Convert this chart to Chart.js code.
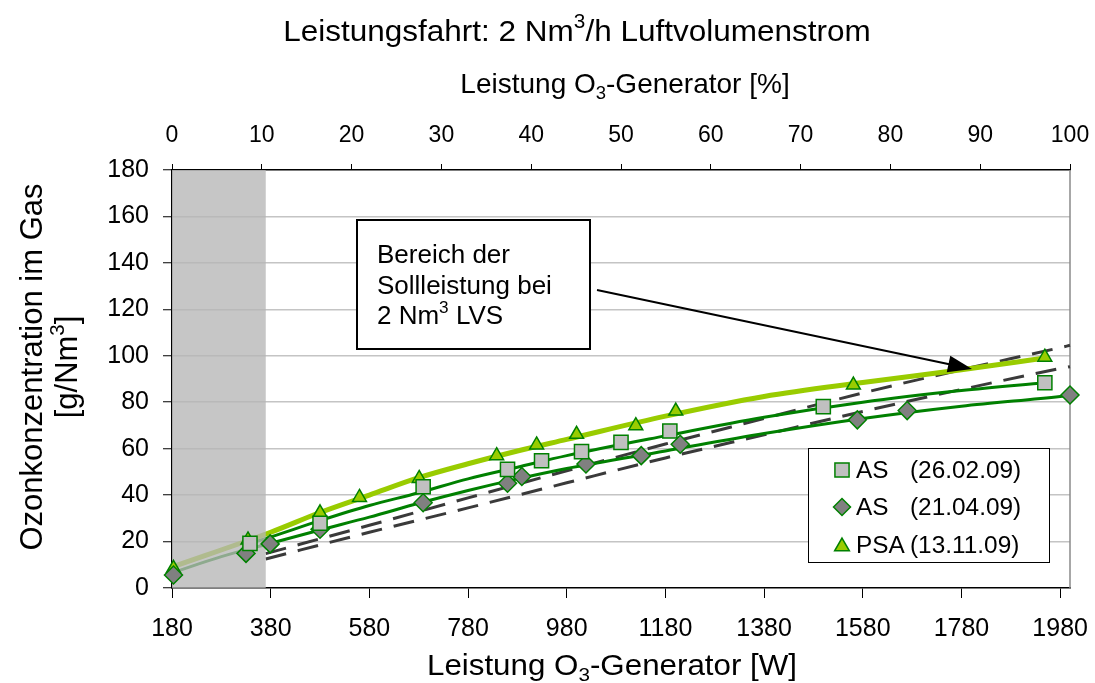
<!DOCTYPE html>
<html><head><meta charset="utf-8">
<script src="https://cdn.jsdelivr.net/npm/chart.js@4/dist/chart.umd.min.js"></script>
<style>html,body{margin:0;padding:0;background:#fff;}</style>
</head><body>
<canvas id="c" width="1095" height="683"></canvas>
<script>
const FONT = '"Liberation Sans", Arial, Helvetica, sans-serif';

// ---- tick labels ----
const xTickValues = [180, 380, 580, 780, 980, 1180, 1380, 1580, 1780, 1980];
const topTickValues = [0, 10, 20, 30, 40, 50, 60, 70, 80, 90, 100];
const yTickValues = [0, 20, 40, 60, 80, 100, 120, 140, 160, 180];

// ---- measured points ----
const as26W = [338, 480, 689, 860, 929, 1010, 1090, 1189, 1500, 1949];
const as26C = [19.2, 27.9, 43.6, 51.1, 54.8, 58.7, 62.7, 67.6, 78.1, 88.4];

const as21W = [183, 330, 379, 480, 689, 860, 889, 1019, 1131, 1210, 1569, 1670, 2000];
const as21C = [5.6, 14.9, 19, 25.3, 36.7, 45.1, 48, 53.4, 57, 61.9, 72.4, 76.4, 83.1];

const psaW = [183, 334, 480, 560, 681, 838, 919, 1000, 1120, 1201, 1561, 1949];
const psaC = [8.5, 20.7, 32.4, 39, 47.2, 57, 61.6, 66.2, 69.9, 76.2, 87.4, 99.4];

// ---- trend curves ----
const as26TrendW = [338, 380, 480, 580, 680, 780, 880, 980, 1180, 1380, 1580, 1780, 1949];
const as26TrendC = [19.2, 22, 29, 35.5, 41, 47, 52, 57, 65.5, 73.5, 80, 85, 88.4];

const as21TrendW = [180, 280, 380, 480, 580, 680, 780, 880, 980, 1180, 1380, 1580, 1780, 1980, 2000];
const as21TrendC = [6.5, 13.5, 19.3, 25, 30.5, 36.5, 42, 47, 51.5, 59, 66.5, 73, 78.3, 82.5, 83];

const psaTrendW = [180, 380, 480, 580, 680, 780, 880, 980, 1180, 1380, 1580, 1780, 1949];
const psaTrendC = [9, 24, 32.5, 40, 47.5, 53.5, 59, 64, 74, 82.5, 88.5, 94, 99];

// ---- dashed reference lines ----
const refHighW = [370, 580, 780, 980, 1180, 1380, 1580, 1780, 1980, 2000];
const refHighC = [14.8, 27, 38.8, 50.5, 62, 73, 84, 94, 103.5, 104.5];
const refLowW = [370, 580, 780, 980, 1180, 1380, 1580, 1780, 1980, 2000];
const refLowC = [12.5, 24, 34.5, 45.3, 56, 66, 76, 85.5, 94.5, 95.3];

// ---- shaded range & legend text ----
const shadeRangeW = [180, 370];
const legendNames = ['AS', 'AS', 'PSA'];
const legendDates = ['(26.02.09)', '(21.04.09)', '(13.11.09)'];

const pts = (xs, ys) => xs.map((x, i) => ({x: x, y: ys[i]}));

const GREEN = '#008000';
const LIME = '#99cc00';

const datasets = [
  {label: legendNames[0] + ' ' + legendDates[0], data: pts(as26W, as26C), isMarker: true, showLine: false,
   pointStyle: 'rect', pointRadius: 10, pointBackgroundColor: '#c0c0c0', pointBorderColor: GREEN, pointBorderWidth: 1.5,
   order: 1, clip: false},
  {label: legendNames[1] + ' ' + legendDates[1], data: pts(as21W, as21C), isMarker: true, showLine: false,
   pointStyle: 'rectRot', pointRadius: 9, pointBackgroundColor: '#808080', pointBorderColor: GREEN, pointBorderWidth: 1.5,
   order: 1, clip: false},
  {label: legendNames[2] + ' ' + legendDates[2], data: pts(psaW, psaC), isMarker: true, showLine: false,
   pointStyle: 'triangle', pointRadius: 8, pointBackgroundColor: LIME, pointBorderColor: GREEN, pointBorderWidth: 1.5,
   order: 1, clip: false},
  {label: 'Trend AS (26.02.09)', data: pts(as26TrendW, as26TrendC), showLine: true, pointRadius: 0,
   borderColor: GREEN, borderWidth: 3, cubicInterpolationMode: 'monotone', order: 5, clip: false},
  {label: 'Trend AS (21.04.09)', data: pts(as21TrendW, as21TrendC), showLine: true, pointRadius: 0,
   borderColor: GREEN, borderWidth: 3, cubicInterpolationMode: 'monotone', order: 5, clip: false},
  {label: 'Trend PSA (13.11.09)', data: pts(psaTrendW, psaTrendC), showLine: true, pointRadius: 0,
   borderColor: LIME, borderWidth: 5, cubicInterpolationMode: 'monotone', order: 4, clip: false},
  {label: 'Referenz oben', data: pts(refHighW, refHighC), showLine: true, pointRadius: 0,
   borderColor: '#3a3a3a', borderWidth: 3, borderDash: [21, 12], cubicInterpolationMode: 'monotone', order: 6, clip: false},
  {label: 'Referenz unten', data: pts(refLowW, refLowC), showLine: true, pointRadius: 0,
   borderColor: '#3a3a3a', borderWidth: 3, borderDash: [21, 12], cubicInterpolationMode: 'monotone', order: 6, clip: false}
];

// rich text helper (sub/superscript)
const SMALL = 0.66;
function measureRich(ctx, parts, size) {
  let w = 0;
  for (const p of parts) {
    const fs = (p.sub || p.sup) ? size * SMALL : size;
    ctx.font = fs + 'px ' + FONT;
    w += ctx.measureText(p.t).width;
  }
  return w;
}
function drawRich(ctx, parts, x, y, size, align, sx) {
  sx = sx || 1;
  ctx.save();
  ctx.translate(x, y);
  ctx.scale(sx, 1);
  const w = measureRich(ctx, parts, size);
  let cx = align === 'center' ? -w / 2 : 0;
  ctx.fillStyle = '#000';
  ctx.textBaseline = 'alphabetic';
  ctx.textAlign = 'left';
  for (const p of parts) {
    const fs = (p.sub || p.sup) ? size * SMALL : size;
    const dy = p.sub ? size * 0.2 : (p.sup ? -size * 0.42 : 0);
    ctx.font = fs + 'px ' + FONT;
    ctx.fillText(p.t, cx, dy);
    cx += ctx.measureText(p.t).width;
  }
  ctx.restore();
}

function markerPath(ctx, style, x, y, r) {
  ctx.beginPath();
  if (style === 'rect') {
    const s = r * Math.SQRT1_2;
    ctx.rect(x - s, y - s, 2 * s, 2 * s);
  } else if (style === 'rectRot') {
    ctx.moveTo(x - r, y); ctx.lineTo(x, y - r); ctx.lineTo(x + r, y); ctx.lineTo(x, y + r); ctx.closePath();
  } else {
    ctx.moveTo(x, y - r);
    ctx.lineTo(x + r * 0.866, y + r * 0.5);
    ctx.lineTo(x - r * 0.866, y + r * 0.5);
    ctx.closePath();
  }
}

let shadeDone = false;
const decor = {
  id: 'decor',
  beforeDatasetsDraw(chart) {
    shadeDone = false;
    const ctx = chart.ctx, a = chart.chartArea;
    ctx.save();
    ctx.strokeStyle = '#8a8a8a';
    ctx.lineWidth = 1.5;
    ctx.beginPath(); ctx.moveTo(a.right, a.top); ctx.lineTo(a.right, a.bottom); ctx.stroke();
    ctx.restore();
  },
  beforeDatasetDraw(chart, args) {
    const ds = chart.data.datasets[args.index];
    if (ds.isMarker && !shadeDone) {
      shadeDone = true;
      const ctx = chart.ctx, a = chart.chartArea, xs = chart.scales.x;
      const x0 = xs.getPixelForValue(shadeRangeW[0]);
      const x1 = xs.getPixelForValue(shadeRangeW[1]);
      ctx.save();
      ctx.fillStyle = 'rgba(182,182,182,0.78)';
      ctx.fillRect(x0, a.top, x1 - x0, a.bottom - a.top);
      ctx.restore();
    }
  },
  afterDraw(chart) {
    const ctx = chart.ctx;
    // main title
    drawRich(ctx, [{t: 'Leistungsfahrt: 2 Nm'}, {t: '3', sup: true}, {t: '/h Luftvolumenstrom'}], 577, 41, 30, 'center', 1.05);
    // top axis title
    drawRich(ctx, [{t: 'Leistung O'}, {t: '3', sub: true}, {t: '-Generator [%]'}], 625, 93, 28, 'center', 1.0);
    // bottom axis title
    drawRich(ctx, [{t: 'Leistung O'}, {t: '3', sub: true}, {t: '-Generator [W]'}], 612, 675, 29, 'center', 1.08);
    // y axis title
    ctx.save();
    ctx.translate(42, 367);
    ctx.rotate(-Math.PI / 2);
    drawRich(ctx, [{t: 'Ozonkonzentration im Gas'}], 0, 0, 31, 'center', 1.0);
    ctx.restore();
    ctx.save();
    ctx.translate(77, 367);
    ctx.rotate(-Math.PI / 2);
    drawRich(ctx, [{t: '[g/Nm'}, {t: '3', sup: true}, {t: ']'}], 0, 0, 31, 'center', 1.0);
    ctx.restore();

    // annotation box
    ctx.save();
    ctx.fillStyle = '#fff';
    ctx.fillRect(357, 220, 233, 129);
    ctx.strokeStyle = '#000';
    ctx.lineWidth = 2;
    ctx.strokeRect(357, 220, 233, 129);
    ctx.restore();
    drawRich(ctx, [{t: 'Bereich der'}], 377, 263, 26, 'left', 1.0);
    drawRich(ctx, [{t: 'Sollleistung bei'}], 377, 293.5, 26, 'left', 1.0);
    drawRich(ctx, [{t: '2 Nm'}, {t: '3', sup: true}, {t: ' LVS'}], 377, 324, 26, 'left', 1.0);

    // arrow
    const x1 = 597, y1 = 290, x2 = 972, y2 = 369;
    const dx = x2 - x1, dy = y2 - y1, L = Math.hypot(dx, dy);
    const ux = dx / L, uy = dy / L;
    const hl = 24, hw = 8.5;
    const bx = x2 - ux * hl, by = y2 - uy * hl;
    ctx.save();
    ctx.strokeStyle = '#000';
    ctx.fillStyle = '#000';
    ctx.lineWidth = 2;
    ctx.beginPath(); ctx.moveTo(x1, y1); ctx.lineTo(bx + ux * 2, by + uy * 2); ctx.stroke();
    ctx.beginPath();
    ctx.moveTo(x2, y2);
    ctx.lineTo(bx - uy * hw, by + ux * hw);
    ctx.lineTo(bx + uy * hw, by - ux * hw);
    ctx.closePath(); ctx.fill();
    ctx.restore();

    // legend
    ctx.save();
    ctx.fillStyle = '#fff';
    ctx.fillRect(808.5, 448.5, 241, 114);
    ctx.strokeStyle = '#000';
    ctx.lineWidth = 1;
    ctx.strokeRect(808.5, 448.5, 241, 114);
    const rows = [470, 507, 545];
    const legendR = [10, 8.5, 8.5];
    for (let i = 0; i < 3; i++) {
      const ds = chart.data.datasets[i];
      markerPath(ctx, ds.pointStyle, 842, rows[i] + (ds.pointStyle === 'triangle' ? 1.5 : 0), legendR[i]);
      ctx.fillStyle = ds.pointBackgroundColor;
      ctx.fill();
      ctx.strokeStyle = ds.pointBorderColor;
      ctx.lineWidth = 1.5;
      ctx.stroke();
      drawRich(ctx, [{t: legendNames[i]}], 856, rows[i] + 7.5, 23, 'left', 1.06);
      drawRich(ctx, [{t: legendDates[i]}], 910, rows[i] + 7.5, 23, 'left', 1.06);
    }
    ctx.restore();
  }
};

const tickFont = {family: FONT, size: 25};
const noPad = s => { s.paddingLeft = 0; s.paddingRight = 0; };

new Chart(document.getElementById('c'), {
  type: 'line',
  data: {datasets: datasets},
  options: {
    responsive: false,
    animation: false,
    events: [],
    layout: {padding: {left: 0, right: 25, top: 0, bottom: 0}},
    plugins: {legend: {display: false}, tooltip: {enabled: false}, title: {display: false}},
    scales: {
      x: {
        type: 'linear', position: 'bottom', min: 180, max: 2000,
        afterBuildTicks: s => { s.ticks = xTickValues.map(v => ({value: v})); },
        afterFit: s => { s.height = 95; noPad(s); },
        ticks: {color: '#000', font: tickFont, padding: 16, maxRotation: 0, autoSkip: false, callback: v => String(v)},
        grid: {drawOnChartArea: false, drawTicks: true, tickLength: 10, tickColor: '#000', tickWidth: 1},
        border: {color: '#000', width: 1.5}
      },
      x2: {
        type: 'linear', position: 'top', min: 0, max: 100,
        afterBuildTicks: s => { s.ticks = topTickValues.map(v => ({value: v})); },
        afterFit: s => { s.height = 170; noPad(s); },
        ticks: {color: '#000', font: {family: FONT, size: 23}, padding: 15, maxRotation: 0, autoSkip: false, callback: v => String(v)},
        grid: {drawOnChartArea: false, drawTicks: true, tickLength: 6, tickColor: '#000', tickWidth: 1},
        border: {color: '#000', width: 1.5}
      },
      y: {
        type: 'linear', position: 'left', min: 0, max: 180,
        afterBuildTicks: s => { s.ticks = yTickValues.map(v => ({value: v})); },
        afterFit: s => { s.width = 172; },
        ticks: {color: '#000', font: tickFont, padding: 14, callback: v => String(v)},
        grid: {
          color: c => (c.tick && (c.tick.value === 0 || c.tick.value === 180)) ? 'rgba(0,0,0,0)' : '#c4c4c4',
          lineWidth: 1.5, drawTicks: true, tickLength: 9, tickColor: '#000', tickWidth: 1
        },
        border: {color: '#000', width: 1.5}
      }
    }
  },
  plugins: [decor]
});
</script>
</body></html>
